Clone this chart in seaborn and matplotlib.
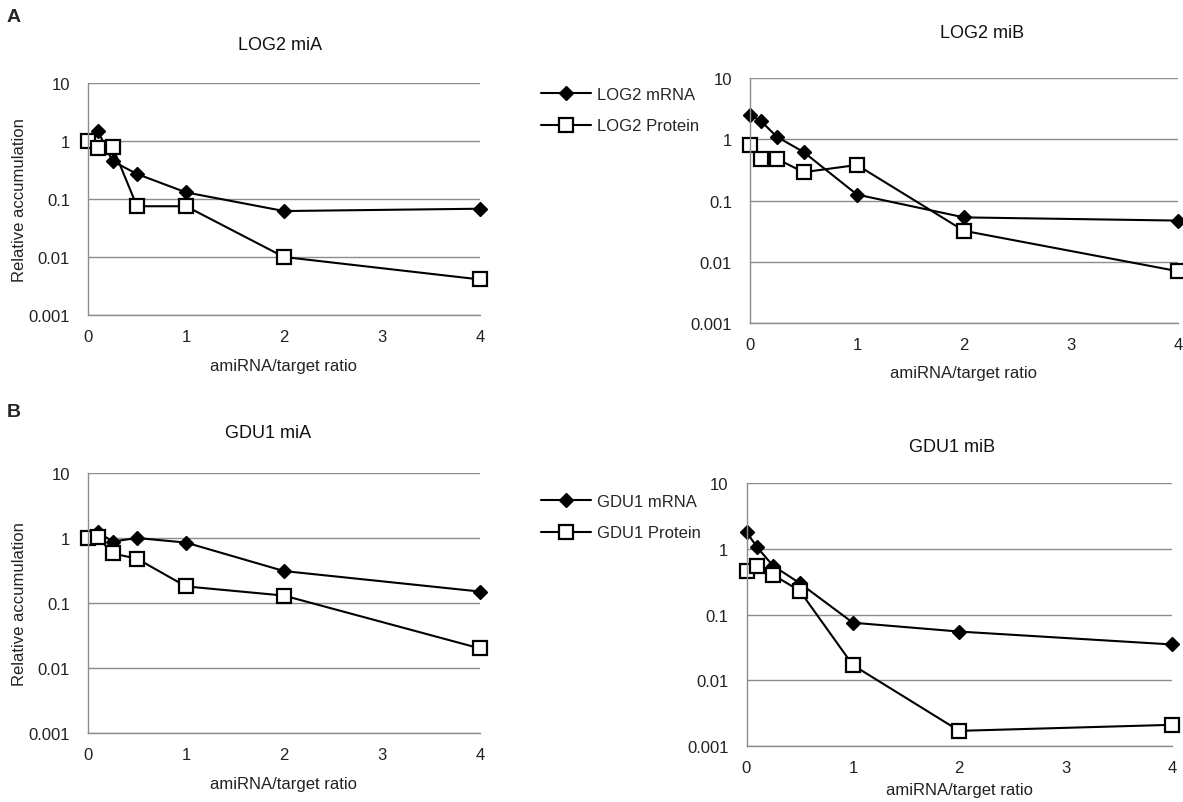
import matplotlib
matplotlib.use("Agg")
import matplotlib.pyplot as plt
import seaborn as sns
import pandas as pd
from matplotlib.ticker import FixedLocator, NullLocator

sns.set_theme(style="white")
plt.rcParams['font.family'] = ['Liberation Sans', 'DejaVu Sans']

ratio = [0, 0.1, 0.25, 0.5, 1, 2, 4]

log2_miA_mrna = [1.0, 1.5, 0.45, 0.27, 0.13, 0.062, 0.068]
log2_miA_prot = [1.0, 0.75, 0.80, 0.075, 0.075, 0.010, 0.0041]
log2_miB_mrna = [2.5, 2.0, 1.1, 0.62, 0.125, 0.053, 0.047]
log2_miB_prot = [0.80, 0.48, 0.48, 0.29, 0.38, 0.032, 0.0070]
gdu1_miA_mrna = [1.0, 1.25, 0.88, 1.0, 0.85, 0.31, 0.15]
gdu1_miA_prot = [1.0, 1.03, 0.58, 0.48, 0.18, 0.13, 0.020]
gdu1_miB_mrna = [1.8, 1.05, 0.55, 0.30, 0.075, 0.055, 0.035]
gdu1_miB_prot = [0.46, 0.55, 0.40, 0.23, 0.017, 0.0017, 0.0021]

titles = ["LOG2 miA", "LOG2 miB", "GDU1 miA", "GDU1 miB"]
gene = ["LOG2", "LOG2", "GDU1", "GDU1"]
mrna_sets = [log2_miA_mrna, log2_miB_mrna, gdu1_miA_mrna, gdu1_miB_mrna]
prot_sets = [log2_miA_prot, log2_miB_prot, gdu1_miA_prot, gdu1_miB_prot]
yticks = [0.001, 0.01, 0.1, 1, 10]
ytick_labels = ["0.001", "0.01", "0.1", "1", "10"]
xticks = [0, 1, 2, 3, 4]

W, H = 1183, 803
fig = plt.figure(figsize=(W / 100, H / 100), dpi=100)

# axes boxes in pixels: left, right, top, bottom
boxes = [
    (88, 480, 84, 316),
    (750, 1178, 79, 324),
    (88, 480, 474, 734),
    (746.5, 1172, 484, 747),
]
title_xy = [(280, 45), (982, 33), (268, 433), (952, 448)]
xlabel_y = [367, 374, 785, 791]

grey = "#8c8c8c"
txt = "#222222"
axes = []
for i in range(4):
    l, r, t, b = boxes[i]
    ax = fig.add_axes([l / W, 1 - b / H, (r - l) / W, (b - t) / H])
    axes.append(ax)
    df = pd.DataFrame({"ratio": ratio, "mrna": mrna_sets[i], "prot": prot_sets[i]})
    sns.lineplot(data=df, x="ratio", y="mrna", ax=ax, color="black", lw=1.5,
                 marker="D", markersize=7, markerfacecolor="black",
                 markeredgecolor="black", markeredgewidth=1,
                 errorbar=None, sort=False, label=f"{gene[i]} mRNA", legend=False)
    sns.lineplot(data=df, x="ratio", y="prot", ax=ax, color="black", lw=1.5,
                 marker="s", markersize=10, markerfacecolor="white",
                 markeredgecolor="black", markeredgewidth=1.6,
                 errorbar=None, sort=False, label=f"{gene[i]} Protein", legend=False)
    ax.set_yscale("log")
    ax.set_ylim(0.001, 10)
    ax.set_xlim(0, 4)
    ax.yaxis.set_major_locator(FixedLocator(yticks))
    ax.yaxis.set_minor_locator(NullLocator())
    ax.set_yticklabels(ytick_labels)
    ax.set_xticks(xticks)
    ax.set_xticklabels([str(t) for t in xticks])
    ax.grid(axis="y", color=grey, lw=1)
    ax.grid(axis="x", visible=False)
    for s in ["top", "right"]:
        ax.spines[s].set_visible(False)
    for s in ["left", "bottom"]:
        ax.spines[s].set_color(grey)
        ax.spines[s].set_linewidth(1)
    ax.tick_params(axis="both", which="major", direction="out", length=5,
                   width=1, color=grey, labelsize=12, labelcolor=txt)
    ax.tick_params(axis="x", pad=5)
    ax.tick_params(axis="y", pad=8)
    ax.set_xlabel("")
    ax.set_ylabel("Relative accumulation" if i in (0, 2) else "", fontsize=12,
                  color=txt, labelpad=1)
    for ln in ax.get_lines():
        ln.set_clip_on(False)
    tx, ty = title_xy[i]
    fig.text(tx / W, 1 - ty / H, titles[i], ha="center", va="center",
             fontsize=13, color="#111111")
    fig.text((l + r) / 2 / W, 1 - xlabel_y[i] / H, "amiRNA/target ratio",
             ha="center", va="center", fontsize=12, color=txt)

# legends
for i, ly in [(0, 111), (2, 518)]:
    h, lab = axes[i].get_legend_handles_labels()
    fig.legend(h, lab, loc="center left", bbox_to_anchor=(541 / W, 1 - ly / H),
               frameon=False, fontsize=12, handlelength=3.0, labelspacing=1.0,
               handletextpad=0.35, borderpad=0, borderaxespad=0)

fig.text(14 / W, 1 - 18 / H, "A", fontsize=14, fontweight="bold",
         ha="center", va="center")
fig.text(14 / W, 1 - 413 / H, "B", fontsize=14, fontweight="bold",
         ha="center", va="center")

fig.savefig("out.png", dpi=100)
